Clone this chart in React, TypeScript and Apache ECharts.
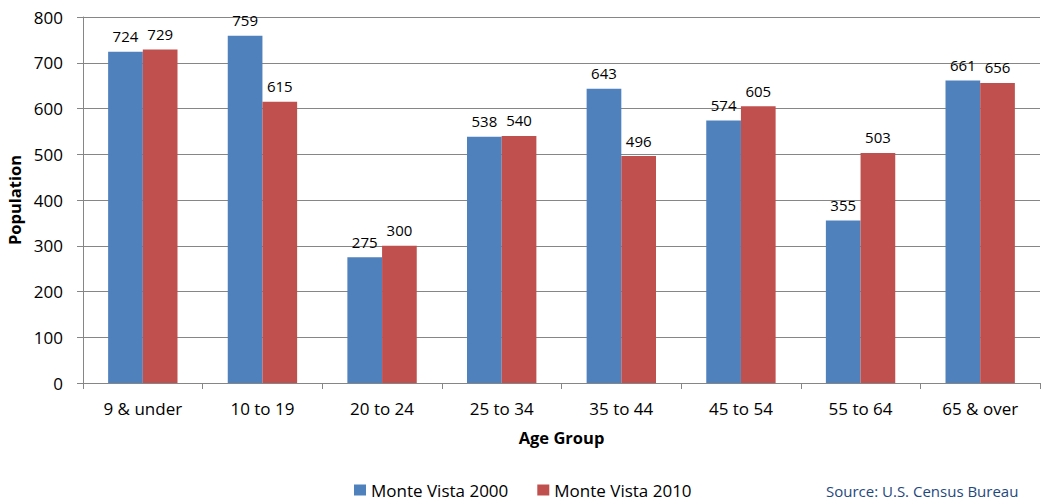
import React, { useEffect, useRef } from "react";
import * as echarts from "echarts";

const categories = ["9 & under", "10 to 19", "20 to 24", "25 to 34", "35 to 44", "45 to 54", "55 to 64", "65 & over"];
const seriesNames = ["Monte Vista 2000", "Monte Vista 2010"];
const values2000 = [724, 759, 275, 538, 643, 574, 355, 661];
const values2010 = [729, 615, 300, 540, 496, 605, 503, 656];
const colors = ["#4F81BD", "#C0504D"];
const sourceText = "Source: U.S. Census Bureau";

const FONT = "'Open Sans', 'Noto Sans', sans-serif";

export default function App() {
  const ref = useRef<HTMLDivElement>(null);
  useEffect(() => {
    if (!ref.current) return;
    const chart = echarts.init(ref.current, null, { renderer: "svg" });
    const labelCfg = {
      show: true,
      position: "top",
      distance: 8,
      color: "#000",
      fontSize: 15,
      fontFamily: FONT,
    };
    chart.setOption({
      animation: false,
      textStyle: { fontFamily: FONT },
      grid: { left: 83, right: 4, top: 17, bottom: 117, containLabel: false, outerBoundsMode: "none" },
      legend: {
        top: 481,
        left: 354,
        itemWidth: 12,
        itemHeight: 11,
        itemGap: 29,
        itemTextGap: 5,
        icon: "rect",
        padding: 0,
        textStyle: { fontSize: 17, lineHeight: 18, color: "#000", fontFamily: FONT },
        data: seriesNames,
      },
      xAxis: {
        type: "category",
        data: categories,
        name: "Age Group",
        nameLocation: "middle",
        nameGap: 46,
        nameTextStyle: { fontWeight: "bold", fontSize: 16.5, color: "#000", fontFamily: FONT },
        axisLine: { lineStyle: { color: "#868686", width: 1 } },
        axisTick: { show: true, alignWithLabel: false, length: 6, lineStyle: { color: "#868686" } },
        axisLabel: { color: "#000", fontSize: 17, margin: 17, fontFamily: FONT },
      },
      yAxis: {
        type: "value",
        min: 0,
        max: 800,
        interval: 100,
        name: "Population",
        nameLocation: "middle",
        nameGap: 57,
        nameTextStyle: { fontWeight: "bold", fontSize: 16.5, color: "#000", fontFamily: FONT },
        axisLine: { show: true, lineStyle: { color: "#868686", width: 1 } },
        axisTick: { show: true, length: 6, lineStyle: { color: "#868686" } },
        axisLabel: { color: "#000", fontSize: 17, margin: 20, fontFamily: FONT },
        splitLine: { show: true, lineStyle: { color: "#868686", width: 1 } },
      },
      series: [
        {
          name: seriesNames[0],
          type: "bar",
          data: values2000,
          itemStyle: { color: colors[0] },
          barGap: "0%",
          barCategoryGap: "42%",
          label: labelCfg,
        },
        {
          name: seriesNames[1],
          type: "bar",
          data: values2010,
          itemStyle: { color: colors[1] },
          barGap: "0%",
          barCategoryGap: "42%",
          label: labelCfg,
        },
      ],
      graphic: [
        {
          type: "text",
          left: 826,
          top: 483,
          style: { text: sourceText, fill: "#1F497D", fontSize: 15, fontFamily: FONT },
        },
      ],
    });
    return () => chart.dispose();
  }, []);
  return (
    <div
      ref={ref}
      style={{ position: "fixed", left: 0, top: 0, width: 1044, height: 500, background: "#fff" }}
    />
  );
}
